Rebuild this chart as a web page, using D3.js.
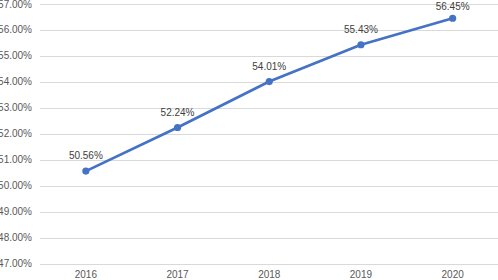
<!DOCTYPE html>
<html>
<head>
<meta charset="utf-8">
<script src="https://cdn.jsdelivr.net/npm/d3@7"></script>
<style>
  body { margin: 0; background: #fff; }
  text { font-family: "Liberation Sans", Arial, sans-serif; }
</style>
</head>
<body>
<div id="chart"></div>
<script>
var years = ["2016", "2017", "2018", "2019", "2020"];
var rates = [50.56, 52.24, 54.01, 55.43, 56.45];
var yTicks = [47, 48, 49, 50, 51, 52, 53, 54, 55, 56, 57];

var width = 498, height = 280;
var margin = { top: 4, right: 0, bottom: 16.5, left: 40 };

var svg = d3.select("#chart")
  .append("svg")
  .attr("width", width)
  .attr("height", height);

var x = d3.scaleBand()
  .domain(years)
  .range([margin.left, width - margin.right + 0.5]);

var y = d3.scaleLinear()
  .domain([47, 57])
  .range([height - margin.bottom, margin.top]);

// gridlines
svg.append("g")
  .selectAll("line")
  .data(yTicks)
  .enter()
  .append("line")
  .attr("x1", margin.left)
  .attr("x2", width)
  .attr("y1", function(d) { return Math.round(y(d)) + 0.5; })
  .attr("y2", function(d) { return Math.round(y(d)) + 0.5; })
  .style("stroke", "#d9d9d9")
  .style("stroke-width", 1);

// y axis labels
svg.append("g")
  .selectAll("text")
  .data(yTicks)
  .enter()
  .append("text")
  .attr("x", 32)
  .attr("y", function(d) { return y(d); })
  .attr("dy", "0.35em")
  .attr("text-anchor", "end")
  .style("font-size", "10px")
  .style("fill", "#595959")
  .text(function(d) { return d3.format(".2f")(d) + "%"; });

// x axis labels
svg.append("g")
  .selectAll("text")
  .data(years)
  .enter()
  .append("text")
  .attr("x", function(d) { return x(d) + x.bandwidth() / 2; })
  .attr("y", 278)
  .attr("text-anchor", "middle")
  .style("font-size", "10px")
  .style("fill", "#595959")
  .text(function(d) { return d; });

var line = d3.line()
  .x(function(d, i) { return x(years[i]) + x.bandwidth() / 2; })
  .y(function(d) { return y(d); });

svg.append("path")
  .datum(rates)
  .attr("d", line)
  .attr("fill", "none")
  .attr("stroke", "#4472c4")
  .attr("stroke-width", 2.75)
  .attr("stroke-linejoin", "round");

svg.append("g")
  .selectAll("circle")
  .data(rates)
  .enter()
  .append("circle")
  .attr("cx", function(d, i) { return x(years[i]) + x.bandwidth() / 2; })
  .attr("cy", function(d) { return y(d); })
  .attr("r", 3.6)
  .attr("fill", "#4472c4");

// data labels (kept inside the top edge)
svg.append("g")
  .selectAll("text")
  .data(rates)
  .enter()
  .append("text")
  .attr("x", function(d, i) { return x(years[i]) + x.bandwidth() / 2; })
  .attr("y", function(d) { return Math.max(y(d) - 12, 9.5); })
  .attr("text-anchor", "middle")
  .style("font-size", "10px")
  .style("fill", "#404040")
  .text(function(d) { return d3.format(".2f")(d) + "%"; });
</script>
</body>
</html>
